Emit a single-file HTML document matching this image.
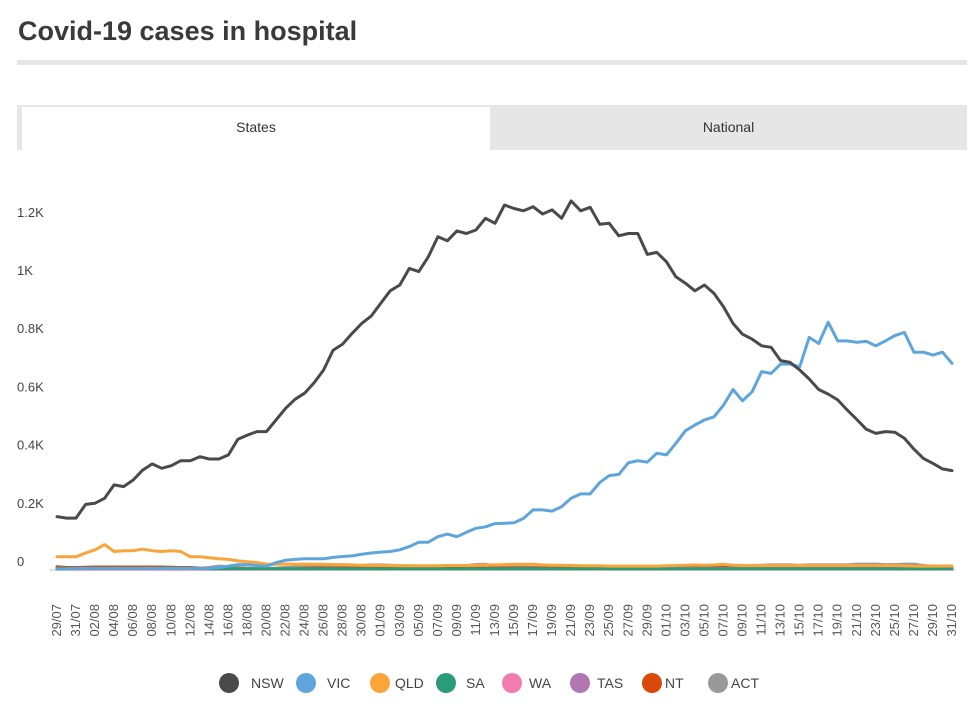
<!DOCTYPE html>
<html><head><meta charset="utf-8"><style>
body{margin:0;width:980px;height:711px;background:#fff;font-family:"Liberation Sans",sans-serif;overflow:hidden;position:relative}
#title{position:absolute;left:18px;top:16px;font-size:27px;font-weight:bold;color:#3a3a3a;margin:0}
#rule{position:absolute;left:17px;top:60px;width:950px;height:5px;background:#e6e6e6}
#tabs{position:absolute;left:17px;top:105px;width:950px;height:45px;background:#e6e6e6}
.tab{position:absolute;top:2px;height:43px;line-height:40px;text-align:center;font-size:14px;color:#333}
svg{position:absolute;left:0;top:0}
</style></head><body>
<h1 id="title">Covid-19 cases in hospital</h1>
<div id="rule"></div>
<div id="tabs">
<div class="tab" style="left:5px;width:468px;background:#fff">States</div>
<div class="tab" style="left:473px;width:477px">National</div>
</div>
<svg id="chart" width="980" height="711"></svg>
<script>
const NS="http://www.w3.org/2000/svg";
const yTicks=[0,200,400,600,800,1000,1200];
const yTickLabels=["0","0.2K","0.4K","0.6K","0.8K","1K","1.2K"];
const seriesNames=["NSW","VIC","QLD","SA","WA","TAS","NT","ACT"];
const seriesColors=["#4a4a4a","#5da5da","#faa43a","#2a9d78","#f17cb0","#b276b2","#d94a0a","#999999"];
const nsw=[180,175,175,222,226,243,289,283,306,340,361,346,355,372,372,386,378,378,392,446,460,472,472,512,552,583,604,640,684,752,773,810,844,869,913,956,976,1033,1022,1073,1142,1128,1162,1153,1165,1205,1188,1251,1239,1231,1245,1220,1234,1205,1265,1231,1243,1185,1188,1145,1153,1153,1081,1088,1056,1004,982,956,976,947,901,844,807,790,767,762,716,710,684,653,617,601,581,546,514,480,466,472,470,449,412,380,363,344,338];
const vic=[0,0,2,2,2,2,2,2,2,2,2,2,2,2,2,2,2,5,10,15,15,12,10,22,30,33,35,35,35,40,43,45,51,55,58,60,66,77,92,92,111,120,111,126,140,145,156,157,159,174,203,203,199,214,243,258,258,297,321,325,365,372,367,398,392,432,475,495,512,523,563,617,578,609,678,672,704,704,695,796,775,848,784,784,779,782,767,784,802,813,745,745,735,745,707];
const qld=[42,42,42,55,66,84,60,63,63,68,63,60,63,60,42,42,39,35,33,28,25,22,17,16,17,17,17,16,16,15,15,14,13,13,12,12,11,11,11,11,11,12,12,12,13,14,14,15,16,16,16,14,13,13,12,11,11,11,10,10,10,10,10,10,11,12,13,14,13,14,16,13,12,12,12,12,12,12,12,12,12,12,12,12,12,12,12,12,12,11,10,10,10,10,10];
const sa=[2,2,2,2,2,2,2,2,2,2,2,3,3,3,2,2,1,1,1,1,1,1,1,1,1,1,1,1,1,1,1,1,1,1,1,1,1,1,1,1,1,1,1,1,1,1,1,1,1,1,1,1,1,1,1,1,1,1,1,1,1,1,1,1,1,1,1,1,1,1,1,1,1,1,1,1,1,1,1,1,1,1,1,1,1,1,1,1,1,1,1,1,1,1,1];
const wa=Array(95).fill(0);
const tas=[0,0,0,0,0,0,0,0,0,0,0,0,0,0,0,0,0,0,0,0,0,0,0,0,0,0,0,0,0,0,0,0,0,0,0,0,0,0,0,0,0,0,0,0,0,0,0,0,0,0,0,0,0,0,0,0,0,0,0,0,0,2,2,2,2,2,2,2,2,2,2,2,2,2,2,2,2,2,2,2,2,2,2,2,2,2,2,2,2,2,2,2,2,2,2];
const nt=[8,5,5,6,7,7,7,7,7,7,7,7,6,5,5,3,2,1,1,1,1,0,0,0,0,1,2,3,3,3,3,3,3,3,4,4,4,4,3,3,3,3,3,3,3,3,3,3,3,3,3,3,3,3,3,4,5,5,4,3,3,3,3,3,3,4,5,6,5,6,7,7,6,6,7,8,8,8,8,7,7,8,9,10,10,10,10,9,9,8,5,3,3,3,3];
const act=[0,0,0,0,0,0,0,0,0,0,0,0,0,0,0,2,5,10,8,5,3,2,2,3,5,7,8,8,9,10,10,10,12,14,14,13,11,11,10,10,10,10,10,12,15,16,10,8,8,7,6,5,3,5,7,8,8,8,7,5,5,5,6,7,8,8,10,12,11,12,13,13,12,12,13,14,14,14,13,14,14,14,14,14,17,17,17,15,15,17,17,12,10,10,10];
const dates=[];(function(){const d=new Date(2021,6,29);for(let i=0;i<95;i++){const x=new Date(d.getTime()+i*864e5);dates.push(String(x.getDate()).padStart(2,"0")+"/"+String(x.getMonth()+1).padStart(2,"0"));}})();
const allSeries=[nsw,vic,qld,sa,wa,tas,nt,act];
const X0=57,X1=952,Y0=569,PX=58.2/200;
const xs=i=>X0+(X1-X0)*i/94;
const ys=v=>Y0-v*PX;
const svg=document.getElementById("chart");
function mk(t,a){const e=document.createElementNS(NS,t);for(const k in a)e.setAttribute(k,a[k]);svg.appendChild(e);return e;}
yTicks.forEach((v,i)=>{const t=mk("text",{x:17,y:ys(v)-3,"font-size":"13",fill:"#444"});t.textContent=yTickLabels[i];

});
const base=mk("line",{x1:50,x2:955,y1:Y0+1,y2:Y0+1,stroke:"#ddd","stroke-width":2});


dates.forEach((d,i)=>{if(i%2)return;const x=xs(i)+4;const t=mk("text",{x:x,y:604,"font-size":"13",fill:"#555","text-anchor":"end",transform:`rotate(-90 ${x} 604)`});t.textContent=d;

});
for(let s=allSeries.length-1;s>=0;s--){const pts=allSeries[s].map((v,i)=>xs(i).toFixed(1)+","+ys(v).toFixed(1)).join(" ");
const p=mk("polyline",{points:pts,fill:"none",stroke:seriesColors[s],"stroke-width":3,"stroke-linejoin":"round","stroke-linecap":"round"});

}
const legX=[229,306,380,446,512,580,652,718];
const legTX=[251,327,395,466,529,597,665,731];
seriesNames.forEach((n,i)=>{const c=mk("circle",{cx:legX[i],cy:683,r:10,fill:seriesColors[i]});


const t=mk("text",{x:legTX[i],y:688,"font-size":"14",fill:"#444"});t.textContent=n;

});
</script>
</body></html>
